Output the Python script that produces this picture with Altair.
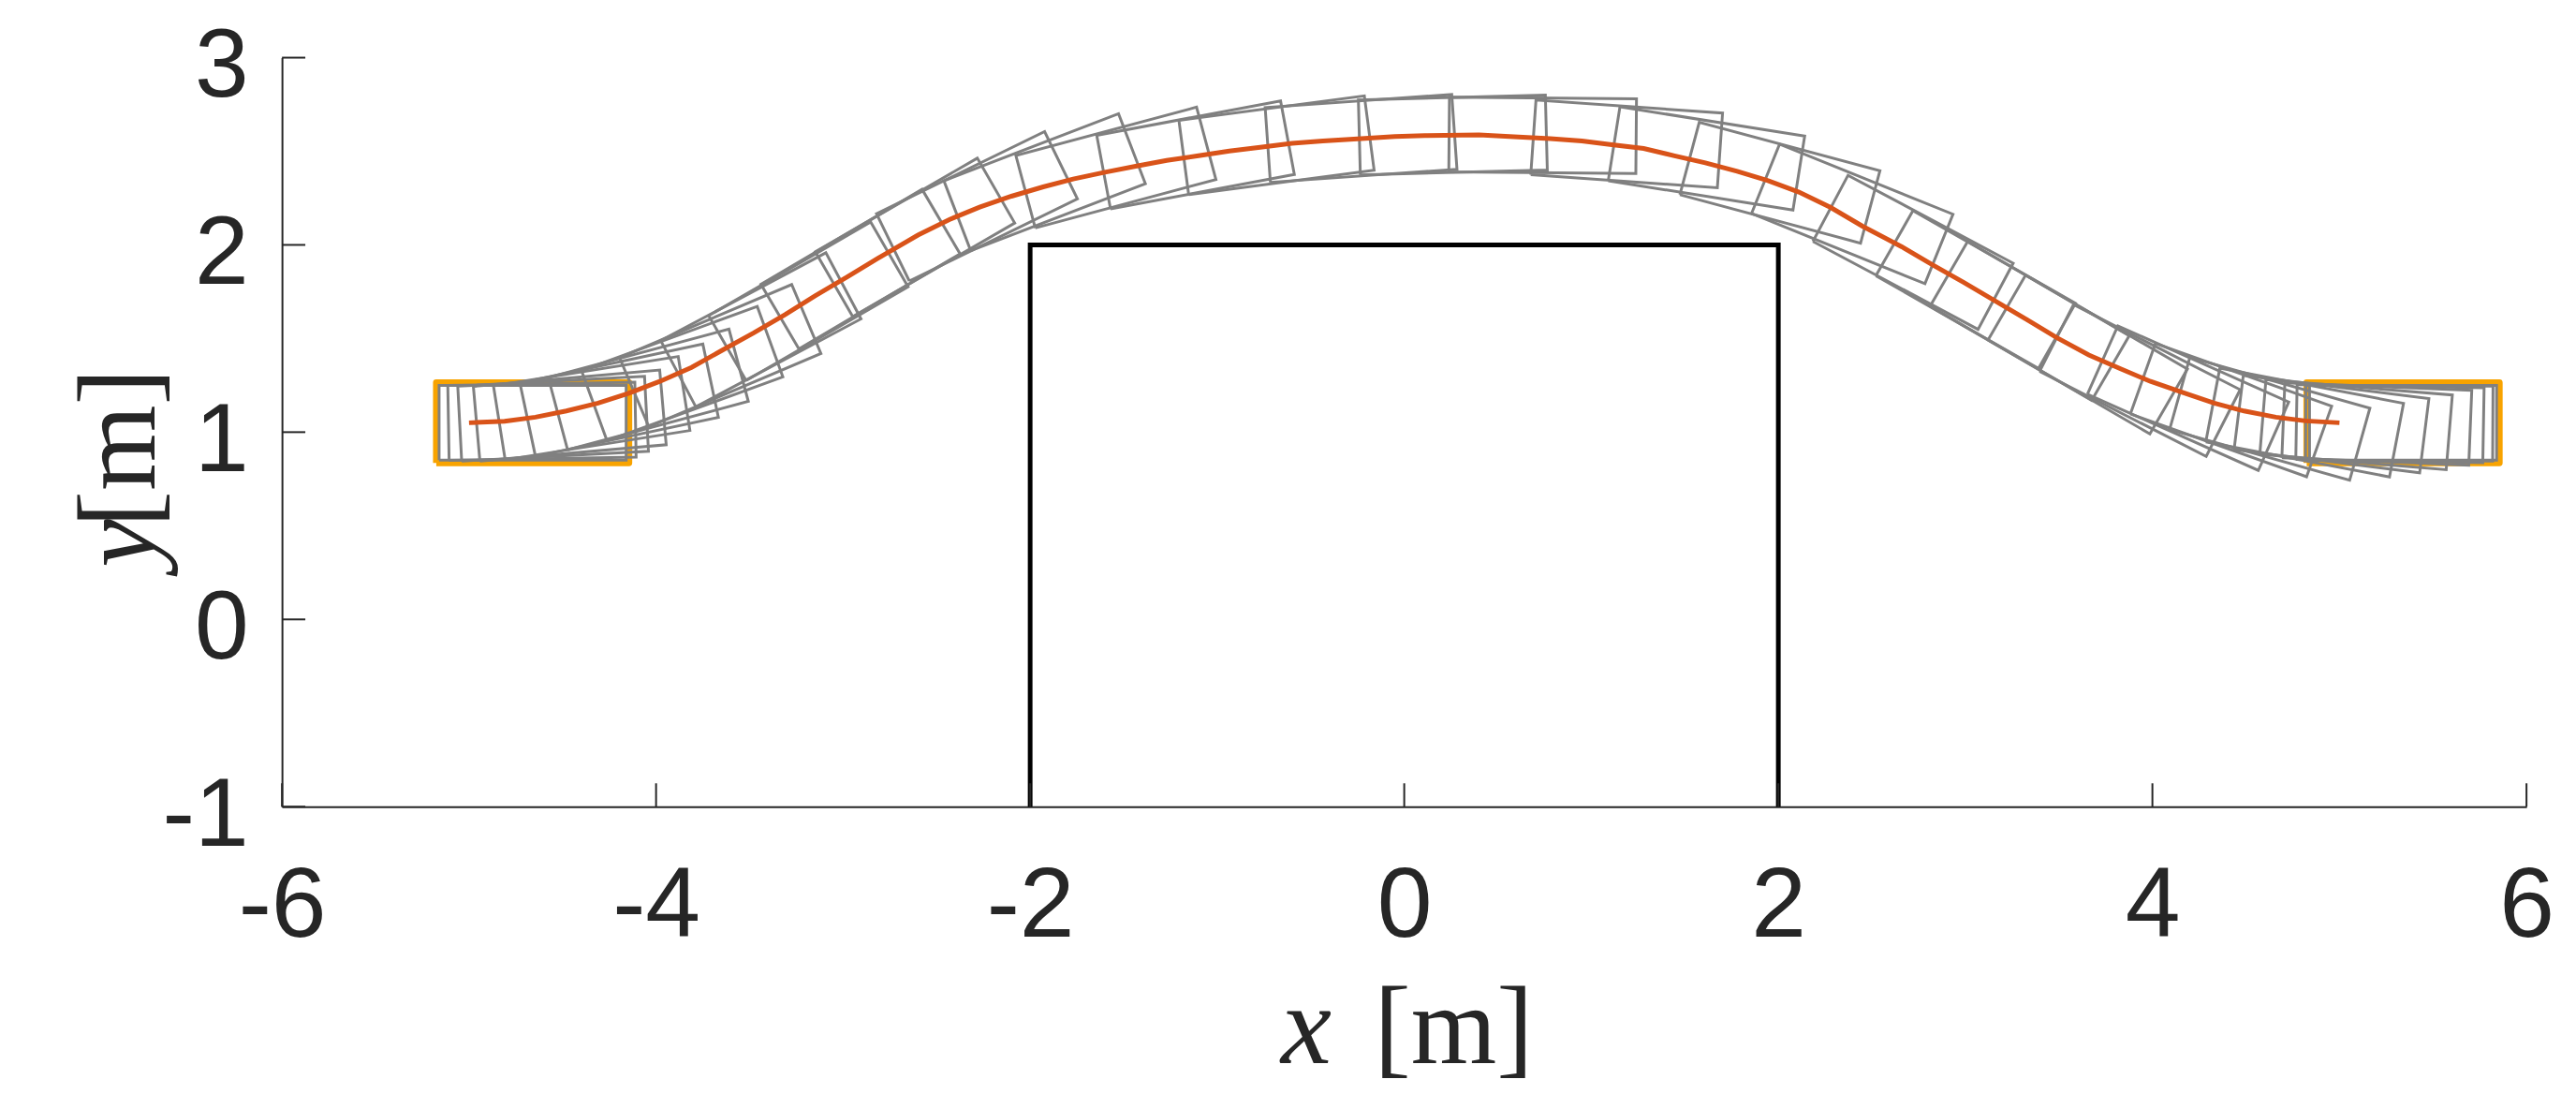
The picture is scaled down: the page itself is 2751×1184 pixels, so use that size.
import altair as alt
import pandas as pd
import numpy as np

# ---- data ----
# planned trajectory (orange line)
traj_x = [-5.0, -4.81, -4.645, -4.48, -4.31, -4.146, -3.98, -3.81, -3.647, -3.48, -3.31, -3.15,
          -2.98, -2.815, -2.6, -2.43, -2.27, -2.10, -1.93, -1.77, -1.60, -1.43, -1.27, -1.10,
          -0.935, -0.77, -0.60, -0.435, -0.27, -0.05, 0.11, 0.40, 0.61, 0.78, 0.95, 1.11, 1.28,
          1.445, 1.61, 1.78, 1.945, 2.11, 2.28, 2.45, 2.66, 2.83, 2.99, 3.16, 3.33, 3.49, 3.66,
          3.83, 3.99, 4.16, 4.33, 4.49, 4.66, 4.82, 5.0]
traj_y = [1.050, 1.058, 1.080, 1.113, 1.155, 1.208, 1.271, 1.346, 1.437, 1.529, 1.628, 1.728,
          1.828, 1.928, 2.052, 2.136, 2.202, 2.260, 2.310, 2.352, 2.388, 2.421, 2.451, 2.476,
          2.501, 2.521, 2.543, 2.555, 2.565, 2.579, 2.584, 2.588, 2.576, 2.568, 2.555, 2.535, 2.515,
          2.476, 2.438, 2.393, 2.343, 2.282, 2.200, 2.100, 1.990, 1.890, 1.800, 1.700, 1.600, 1.504, 1.412,
          1.338, 1.271, 1.213, 1.155, 1.113, 1.080, 1.060, 1.050]

# vehicle poses (reference point and heading in degrees)
pose_x = [-5.00, -4.95, -4.89, -4.80, -4.68, -4.53, -4.37, -4.18, -3.97, -3.74, -3.48, -3.20,
          -2.91, -2.59, -2.24, -1.87, -1.45, -1.02, -0.57, -0.08, 0.40, 0.85, 1.28, 1.68, 2.08,
          2.42, 2.76, 3.05, 3.36, 3.63, 3.88, 4.10, 4.30, 4.48, 4.62, 4.75, 4.86, 4.93, 4.98, 5.00]
pose_y = [1.050, 1.052, 1.054, 1.059, 1.075, 1.100, 1.140, 1.196, 1.276, 1.387, 1.529, 1.698,
          1.870, 2.057, 2.213, 2.325, 2.418, 2.488, 2.545, 2.578, 2.588, 2.563, 2.515, 2.420, 2.293,
          2.120, 1.930, 1.765, 1.585, 1.430, 1.320, 1.232, 1.163, 1.115, 1.085, 1.068, 1.057, 1.052,
          1.050, 1.050]
pose_heading = [0, 1, 3, 5, 9, 12, 15, 20, 23, 28, 30, 30.5,
                30, 26, 21, 15, 10.6, 7.5, 4, 1.5, -0.5, -4, -9, -15, -22,
                -28, -29.7, -30.2, -30.1, -27, -24, -19.6, -15.7, -10.8, -7.1, -4.7, -2.3, -1,
                -0.3, 0]

# vehicle footprint relative to the reference point
veh_rear = 0.16
veh_front = 0.84
veh_half_w = 0.20
# start / goal footprints are drawn a touch larger
goal_margin = 0.015

# obstacle outline
obst_x = [-2, -2, 2, 2]
obst_y = [-1, 2, 2, -1]

x_ticks = [-6, -4, -2, 0, 2, 4, 6]
y_ticks = [-1, 0, 1, 2, 3]

# ---- tables ----
def rect_rows(indices, m=0.0):
    rows = []
    lx = [-veh_rear - m, veh_front + m, veh_front + m, -veh_rear - m, -veh_rear - m]
    ly = [-veh_half_w - m, -veh_half_w - m, veh_half_w + m, veh_half_w + m, -veh_half_w - m]
    for i in indices:
        th = np.deg2rad(pose_heading[i])
        c, s = np.cos(th), np.sin(th)
        for k in range(5):
            rows.append({"id": i, "k": k,
                         "x": pose_x[i] + c * lx[k] - s * ly[k],
                         "y": pose_y[i] + s * lx[k] + c * ly[k]})
    return pd.DataFrame(rows)

gray_df = rect_rows(range(len(pose_x)))
orange_df = rect_rows([0, len(pose_x) - 1], goal_margin)
traj_df = pd.DataFrame({"x": traj_x, "y": traj_y, "k": range(len(traj_x))})
obst_df = pd.DataFrame({"x": obst_x, "y": obst_y, "k": range(len(obst_x))})
xt_df = pd.DataFrame({"x": x_ticks, "y": [-1] * len(x_ticks)})
yt_df = pd.DataFrame({"x": [-6] * len(y_ticks), "y": y_ticks})
one = pd.DataFrame({"t": [0]})

W, H = 2404, 802
AX = "#262626"

xs = alt.Scale(domain=[-6, 6], nice=False, zero=False)
ys = alt.Scale(domain=[-1, 3], nice=False, zero=False)

x_axis = alt.Axis(values=x_ticks, title=None, grid=False, ticks=False, tickSize=0,
                  domainColor=AX, domainWidth=2, labelFont="Liberation Sans",
                  labelFontSize=106, labelColor=AX, labelPadding=55,
                  labelExpr="'' + datum.value", labelFlush=False, labelOverlap=False)
y_axis = alt.Axis(values=y_ticks, title=None, grid=False, ticks=False, tickSize=0,
                  domainColor=AX, domainWidth=2, labelFont="Liberation Sans",
                  labelFontSize=104, labelColor=AX, labelPadding=36, labelOffset=10,
                  labelExpr="'' + datum.value", labelFlush=False, labelOverlap=False)

X = alt.X("x:Q", scale=xs, axis=x_axis)
Y = alt.Y("y:Q", scale=ys, axis=y_axis)

obstacle = alt.Chart(obst_df).mark_line(color="black", strokeWidth=5).encode(
    x=X, y=Y, order="k:Q")

orange_rects = alt.Chart(orange_df).mark_line(color="#F8A300", strokeWidth=7,
                                              strokeJoin="round").encode(
    x=X, y=Y, detail="id:N", order="k:Q")

gray_rects = alt.Chart(gray_df).mark_line(color="#808080", strokeWidth=3).encode(
    x=X, y=Y, detail="id:N", order="k:Q")

traj = alt.Chart(traj_df).mark_line(color="#D95319", strokeWidth=5).encode(
    x=X, y=Y, order="k:Q")

xticks = alt.Chart(xt_df).mark_rule(color=AX, strokeWidth=2).encode(
    x=X, y=alt.value(H), y2=alt.value(H - 25))
yticks = alt.Chart(yt_df).mark_rule(color=AX, strokeWidth=2).encode(
    y=Y, x=alt.value(0), x2=alt.value(25))

# axis titles (italic variable + upright unit)
xt1 = alt.Chart(one).mark_text(text="x", font="Liberation Serif", fontStyle="italic",
                               fontSize=122, align="center", baseline="alphabetic",
                               color=AX).encode(x=alt.value(1097), y=alt.value(1077))
xt2 = alt.Chart(one).mark_text(text="[m]", font="Liberation Serif", fontSize=118,
                               align="center", baseline="alphabetic",
                               color=AX).encode(x=alt.value(1255), y=alt.value(1077))
yt1 = alt.Chart(one).mark_text(text="y", font="Liberation Serif", fontStyle="italic",
                               fontSize=116, align="center", baseline="alphabetic",
                               angle=270, color=AX).encode(x=alt.value(-137), y=alt.value(520))
yt2 = alt.Chart(one).mark_text(text="[m]", font="Liberation Serif", fontSize=118,
                               align="center", baseline="alphabetic", angle=270,
                               color=AX).encode(x=alt.value(-137), y=alt.value(418))

chart = alt.layer(obstacle, orange_rects, gray_rects, traj, xticks, yticks,
                  xt1, xt2, yt1, yt2).properties(
    width=W, height=H,
    background="white",
    autosize=alt.AutoSizeParams(type="none"),
    padding={"left": 294, "top": 52, "right": 45, "bottom": 312},
).configure_view(strokeWidth=0)

chart.save("out.html", embed_options={"renderer": "svg", "actions": False})
